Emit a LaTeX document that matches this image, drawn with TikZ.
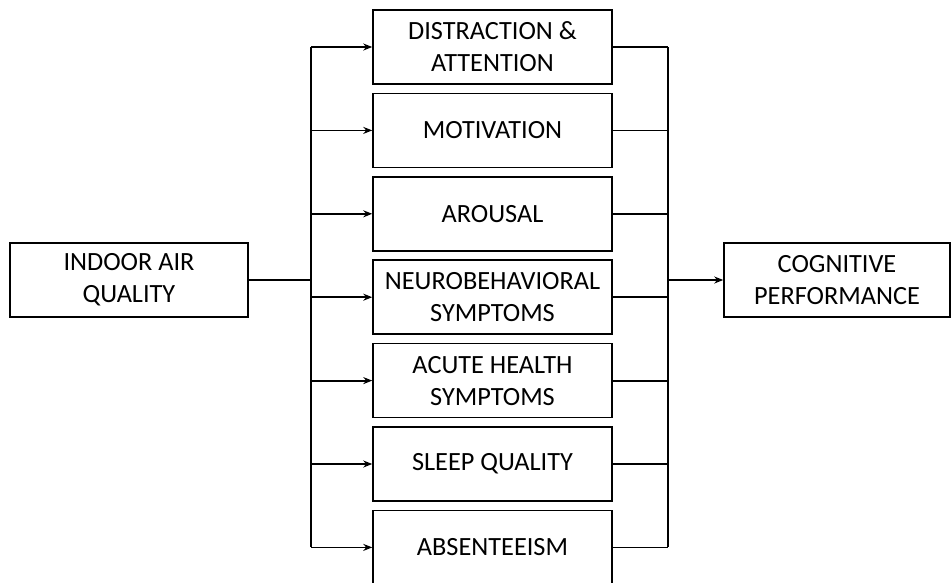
\documentclass[tikz,border=0pt]{standalone}
\usepackage{fontspec}
\setmainfont{Carlito}
\usepackage{xcolor}
\usepackage{tikz}
\usetikzlibrary{arrows.meta}

\begin{document}
\begin{tikzpicture}[x=1pt,y=1pt,yscale=-1,xscale=1,
  every node/.style={font=\fontsize{26.3}{32}\selectfont},
  factorbox/.style={draw,line width=1.5pt,minimum width=239pt,minimum height=74pt,inner sep=0pt,align=center},
  endbox/.style={draw,line width=1.5pt,minimum height=74pt,inner sep=0pt,align=center},
  link/.style={line width=1.8pt},
  arr/.style={line width=1.8pt,-{Stealth[length=9pt,width=7pt]}}]
\useasboundingbox (0,0) rectangle (951,582);

%Shape: Rectangle (input)
\node [endbox,minimum width=238pt] (iaq) at (129,280) {INDOOR AIR\\QUALITY};
%Shape: Rectangle (output)
\node [endbox,minimum width=226pt] (cog) at (837,280) {COGNITIVE\\PERFORMANCE};

%Shape: Rectangle (factors)
\node [factorbox] (distr) at (492.5,47) {DISTRACTION \&\\ATTENTION};
\node [factorbox] (motiv) at (492.5,130.4) {MOTIVATION};
\node [factorbox] (arous) at (492.5,213.8) {AROUSAL};
\node [factorbox] (neuro) at (492.5,297.2) {NEUROBEHAVIORAL\\SYMPTOMS};
\node [factorbox] (acute) at (492.5,380.6) {ACUTE HEALTH\\SYMPTOMS};
\node [factorbox] (sleep) at (492.5,464) {SLEEP QUALITY};
\node [factorbox] (absen) at (492.5,547.4) {ABSENTEEISM};

%Branch points
\coordinate (split) at (311,280);
\coordinate (join) at (668,280);

%Straight Lines (left trunk)
\draw [link] (iaq.east) -- (split);
\draw [link] (split |- distr.west) -- (split |- absen.west);
\draw [arr] (split |- distr.west) -- (distr.west);
\draw [arr] (split |- motiv.west) -- (motiv.west);
\draw [arr] (split |- arous.west) -- (arous.west);
\draw [arr] (split |- neuro.west) -- (neuro.west);
\draw [arr] (split |- acute.west) -- (acute.west);
\draw [arr] (split |- sleep.west) -- (sleep.west);
\draw [arr] (split |- absen.west) -- (absen.west);

%Straight Lines (right trunk)
\draw [link] (distr.east) -- (join |- distr.east);
\draw [link] (motiv.east) -- (join |- motiv.east);
\draw [link] (arous.east) -- (join |- arous.east);
\draw [link] (neuro.east) -- (join |- neuro.east);
\draw [link] (acute.east) -- (join |- acute.east);
\draw [link] (sleep.east) -- (join |- sleep.east);
\draw [link] (absen.east) -- (join |- absen.east);
\draw [link] (join |- distr.east) -- (join |- absen.east);
\draw [arr] (join) -- (cog.west);

\end{tikzpicture}
\end{document}
